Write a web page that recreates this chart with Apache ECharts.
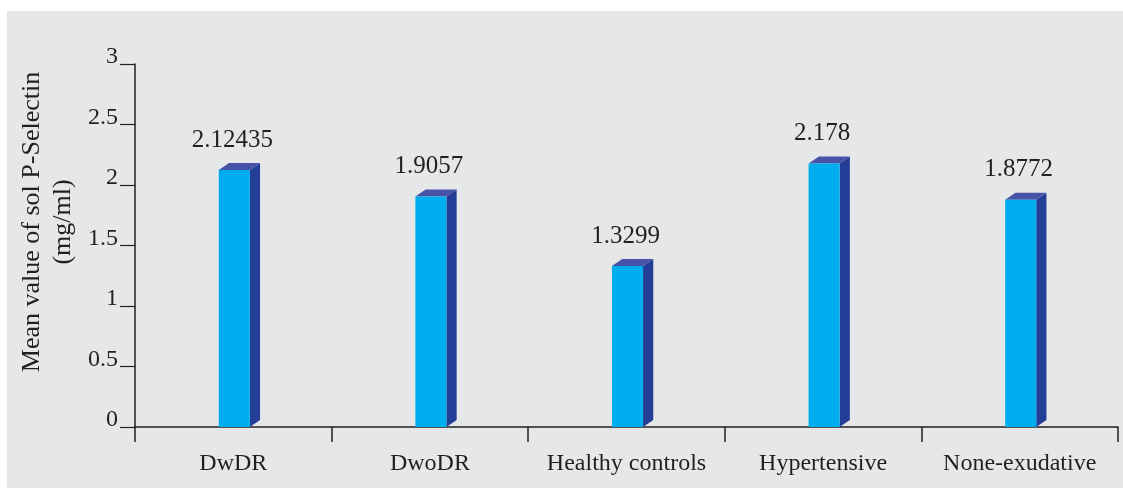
<!DOCTYPE html>
<html>
<head>
<meta charset="utf-8">
<script src="https://cdn.jsdelivr.net/npm/echarts@6/dist/echarts.min.js"></script>
<style>
  html, body { margin: 0; padding: 0; background: #ffffff; }
  #chart { width: 1123px; height: 488px; }
</style>
</head>
<body>
<div id="chart"></div>
<script>
// Mean soluble P-Selectin by study group
const groups = ['DwDR', 'DwoDR', 'Healthy controls', 'Hypertensive', 'None-exudative'];
const meanValues = [2.12435, 1.9057, 1.3299, 2.178, 1.8772];
const valueLabels = ['2.12435', '1.9057', '1.3299', '2.178', '1.8772'];
const yTickLabels = ['0', '0.5', '1', '1.5', '2', '2.5', '3'];

const FONT = '"Liberation Serif", "DejaVu Serif", serif';
const INK = '#231f20';
const FRONT = '#00aeef';
const SIDE = '#233e97';
const TOP = '#4853a8';

const chart = echarts.init(document.getElementById('chart'), null, { renderer: 'canvas' });

// pseudo-3D column: front face, right side face, top face, value label
function renderColumn(params, api) {
  const idx = api.value(0);
  const val = api.value(1);
  const base = api.coord([idx, 0]);
  const top = api.coord([idx, val]);
  const band = api.size([1, 0])[0];
  const w = band * 0.158;
  const dx = band * 0.052;
  const dy = 7;
  const x0 = base[0] - w / 2 + 1;
  const x1 = x0 + w;
  const yb = base[1];
  const yt = top[1];
  return {
    type: 'group',
    children: [
      {
        type: 'polygon',
        shape: { points: [[x1, yt], [x1 + dx, yt - dy], [x1 + dx, yb - dy], [x1, yb]] },
        style: { fill: SIDE }
      },
      {
        type: 'polygon',
        shape: { points: [[x0, yt], [x0 + dx, yt - dy], [x1 + dx, yt - dy], [x1, yt]] },
        style: { fill: TOP }
      },
      {
        type: 'rect',
        shape: { x: x0, y: yt, width: w, height: yb - yt },
        style: { fill: FRONT }
      },
      {
        type: 'text',
        x: base[0] - 1,
        y: yt - 30,
        style: {
          text: valueLabels[idx],
          fill: INK,
          font: '25px ' + FONT,
          align: 'center',
          verticalAlign: 'middle'
        }
      }
    ]
  };
}

chart.setOption({
  backgroundColor: '#ffffff',
  animation: false,
  graphic: [
    {
      type: 'rect',
      z: -10,
      shape: { x: 7, y: 11, width: 1123, height: 488 },
      style: { fill: '#e6e7e8' }
    },
    {
      type: 'text',
      x: 48,
      y: 222,
      rotation: Math.PI / 2,
      style: {
        text: 'Mean value of sol P-Selectin\n(mg/ml)',
        fill: INK,
        font: '26px ' + FONT,
        align: 'center',
        verticalAlign: 'middle',
        lineHeight: 31
      }
    }
  ],
  grid: { left: 135, right: 5, top: 64, bottom: 61, containLabel: false },
  xAxis: {
    type: 'category',
    data: groups,
    boundaryGap: true,
    axisLine: { show: true, lineStyle: { color: INK, width: 1.5 } },
    axisTick: { show: true, interval: 0, length: 15, alignWithLabel: false, lineStyle: { color: INK, width: 1.5 } },
    axisLabel: { interval: 0, hideOverlap: false, margin: 25, color: INK, fontFamily: FONT, fontSize: 24 },
    splitLine: { show: false }
  },
  yAxis: {
    type: 'value',
    min: 0,
    max: 3,
    interval: 0.5,
    axisLine: { show: true, lineStyle: { color: INK, width: 1.5 } },
    axisTick: { show: true, length: 15, lineStyle: { color: INK, width: 1.2 } },
    axisLabel: {
      margin: 17,
      color: INK,
      fontFamily: FONT,
      fontSize: 24,
      verticalAlign: 'bottom',
      lineHeight: 14,
      formatter: (v) => yTickLabels[Math.round(v / 0.5)]
    },
    splitLine: { show: false }
  },
  series: [
    {
      type: 'custom',
      renderItem: renderColumn,
      data: meanValues.map((v, i) => [i, v]),
      encode: { x: 0, y: 1 }
    }
  ]
});
</script>
</body>
</html>
